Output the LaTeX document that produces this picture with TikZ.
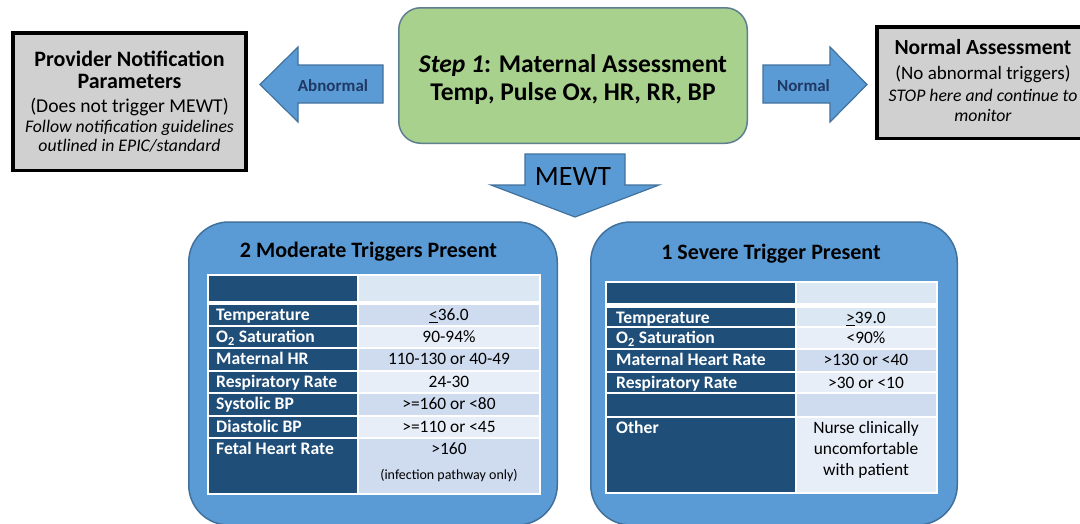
\documentclass[tikz,border=0pt]{standalone}
\usepackage{fontspec}
\setmainfont{Carlito}

\definecolor{arrowblue}{HTML}{5B9BD5}
\definecolor{arrowedge}{HTML}{41719C}
\definecolor{stepgreen}{HTML}{A9D18E}
\definecolor{stepedge}{HTML}{5E7F8E}
\definecolor{notegray}{HTML}{D0D0D0}
\definecolor{keynavy}{HTML}{1F4E79}
\definecolor{valdark}{HTML}{CFDBEE}
\definecolor{vallight}{HTML}{E8EEF7}
\definecolor{valhead}{HTML}{DCE7F4}
\definecolor{labelnavy}{HTML}{1F3864}

\tikzset{
    notebox/.style={draw=black, line width=3.5pt, fill=notegray, align=center, inner sep=0pt},
    stepbox/.style={draw=stepedge, line width=1.5pt, fill=stepgreen, rounded corners=22pt,
        align=center, inner sep=0pt},
    triggerbox/.style={draw=arrowedge, line width=1.5pt, fill=arrowblue, rounded corners=40pt},
    blockarrow/.style={draw=arrowedge, line width=1.2pt, fill=arrowblue, line join=miter},
    arrowlabel/.style={anchor=base, inner sep=0pt, text=labelnavy,
        font=\bfseries\fontsize{17}{20}\selectfont},
    boxtitle/.style={anchor=base, inner sep=0pt, font=\bfseries\fontsize{22}{26}\selectfont},
    keytext/.style={anchor=base west, inner sep=0pt, text=white,
        font=\bfseries\fontsize{17.6}{20}\selectfont},
    valtext/.style={anchor=base, inner sep=0pt, font=\fontsize{17.4}{20}\selectfont},
}

\begin{document}
\begin{tikzpicture}[x=1pt, y=-1pt]
    \useasboundingbox (0,0) rectangle (1080,523);
    \clip (0,0) rectangle (1080,523);
    \fill[white] (0,0) rectangle (1080,523);

    % top row
    \node[notebox, minimum width=233pt, minimum height=137.5pt, font=\fontsize{17.7}{20}\selectfont]
        (provider) at (129.5,101.5)
        {{\bfseries\fontsize{22}{20}\selectfont Provider Notification}\\[2pt]
         {\bfseries\fontsize{22}{20}\selectfont Parameters}\\[4pt]
         {\fontsize{19.6}{20}\selectfont (Does not trigger MEWT)}\\[0.5pt]
         {\itshape Follow notification guidelines}\\[-1pt]
         {\itshape outlined in EPIC/standard}};
    \node[stepbox, minimum width=348.5pt, minimum height=135.5pt] (step) at (573,75.5) {};
    \node[align=center, inner sep=0pt, font=\bfseries\fontsize{25.5}{28}\selectfont]
        (step-text) at (573,79.5)
        {\textit{Step 1}: Maternal Assessment\\Temp, Pulse Ox, HR, RR, BP};
    \node[notebox, minimum width=212.5pt, minimum height=111.5pt] (normal) at (983,82.5) {};
    \node[align=center, inner sep=0pt, font=\fontsize{17.7}{19.5}\selectfont]
        (normal-text) at (983,80.5)
        {{\bfseries\fontsize{21.5}{19.5}\selectfont Normal Assessment}\\[5pt]
         {\fontsize{19}{19.5}\selectfont (No abnormal triggers)}\\[2.5pt]
         {\itshape STOP here and continue to}\\[0.5pt]
         {\itshape monitor}};

    \draw[blockarrow] (383,65) -- (298,65) -- (298,47) -- (260,84.5)
        -- (298,122) -- (298,103) -- (383,103) -- cycle;
    \node[arrowlabel] (abnormal) at (333,91.5) {Abnormal};
    \draw[blockarrow] (763,65) -- (830,65) -- (830,47) -- (867,84.5)
        -- (830,122) -- (830,103) -- (763,103) -- cycle;
    \node[arrowlabel] (normal-lbl) at (803.5,91.5) {Normal};

    \draw[blockarrow] (525,154) -- (625,154) -- (625,185) -- (659,185)
        -- (575,217) -- (491,185) -- (525,185) -- cycle;
    \node[anchor=base, inner sep=0pt, font=\fontsize{28}{30}\selectfont] (mewt) at (573,185) {MEWT};

    % moderate triggers
    \node[triggerbox, minimum width=368.5pt, minimum height=303pt] (moderate) at (373,373.5) {};
    \node[boxtitle] (moderate-title) at (368.5,257) {2 Moderate Triggers Present};
    \fill[white] (207,274) rectangle (541,495);
    \fill[keynavy] (209,276) rectangle (357,301);
    \fill[valhead] (359,276) rectangle (539,301);
    \foreach \i/\ya/\yb/\key/\val/\tone in {
        1/305/325/Temperature/{\underline{<}36.0}/valdark,
        2/327/347/{O\textsubscript{2} Saturation}/{90-94\%}/vallight,
        3/349/370/Maternal HR/{110-130 or 40-49}/valdark,
        4/372/392/Respiratory Rate/{24-30}/vallight,
        5/394/415/Systolic BP/{>=160 or <80}/valdark,
        6/417/437/Diastolic BP/{>=110 or <45}/vallight,
        7/439/493/Fetal Heart Rate/{>160}/valdark}
    {
        \fill[keynavy] (209,\ya) rectangle (357,\yb);
        \fill[\tone] (359,\ya) rectangle (539,\yb);
        \node[keytext] (mk\i) at (216,\ya+15.5) {\key};
        \node[valtext] (mv\i) at (449,\ya+15.5) {\val};
    }
    \node[valtext, font=\fontsize{14}{16}\selectfont] (mv7b) at (449,479.5) {(infection pathway only)};

    % severe trigger
    \node[triggerbox, minimum width=366.5pt, minimum height=303pt] (severe) at (774,373.5) {};
    \node[boxtitle] (severe-title) at (771,259) {1 Severe Trigger Present};
    \fill[white] (605,281) rectangle (938,494);
    \fill[keynavy] (607,283) rectangle (795,303);
    \fill[valhead] (797,283) rectangle (936,303);
    \foreach \i/\ya/\yb/\key/\val/\tone in {
        1/308/326/Temperature/{\underline{>}39.0}/valhead,
        2/328/348/{O\textsubscript{2} Saturation}/{<90\%}/vallight,
        3/350/371/Maternal Heart Rate/{>130 or <40}/valdark,
        4/373/392/Respiratory Rate/{>30 or <10}/vallight,
        5/394/416/{}/{}/valdark,
        6/418/492/Other/{Nurse clinically}/vallight}
    {
        \fill[keynavy] (607,\ya) rectangle (795,\yb);
        \fill[\tone] (797,\ya) rectangle (936,\yb);
        \node[keytext] (sk\i) at (616,\ya+15.5) {\key};
        \node[valtext] (sv\i) at (866,\ya+15.5) {\val};
    }
    \node[valtext] (sv6b) at (866,454.5) {uncomfortable};
    \node[valtext] (sv6c) at (866,475.5) {with patient};
\end{tikzpicture}
\end{document}
